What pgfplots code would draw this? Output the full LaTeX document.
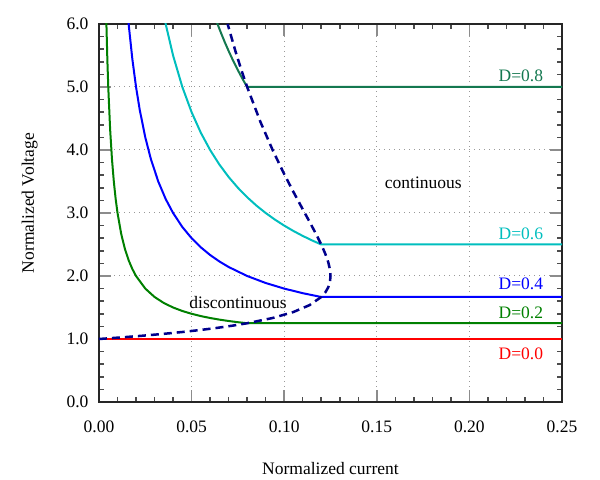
\documentclass[border=0pt]{standalone}
\usepackage{fontspec}
\setmainfont{Liberation Serif}
\usepackage{pgfplots}
\pgfplotsset{compat=1.18}
\definecolor{cred}{RGB}{255,0,0}
\definecolor{cgreen}{RGB}{0,128,0}
\definecolor{cblue}{RGB}{0,0,255}
\definecolor{ccyan}{RGB}{0,190,190}
\definecolor{cteal}{RGB}{20,120,80}
\definecolor{cnavy}{RGB}{0,0,140}
\begin{document}
\begin{tikzpicture}[x=1bp,y=1bp,font=\fontsize{17.5bp}{21bp}\selectfont]
\path[use as bounding box] (-99,-78) rectangle (501,402);
\begin{axis}[
  at={(0,0)}, anchor=south west,
  width=463bp, height=378bp, scale only axis,
  xmin=0, xmax=0.25, ymin=0, ymax=6,
  xtick={0,0.05,0.1,0.15,0.2,0.25},
  xticklabels={0.00,0.05,0.10,0.15,0.20,0.25},
  ytick={0,1,2,3,4,5,6},
  yticklabels={0.0,1.0,2.0,3.0,4.0,5.0,6.0},
  minor x tick num=4, minor y tick num=4,
  tick align=inside,
  major tick length=12bp, minor tick length=5bp,
  every major tick/.style={black!45, line width=1.5bp},
  every minor tick/.style={black!70, line width=1.5bp},
  grid=major,
  major grid style={black!40, line width=1bp, dash pattern=on 1bp off 4bp},
  axis line style={line width=2bp, black!85},
  clip=true,
  tick label style={font=\fontsize{17.5bp}{21bp}\selectfont},
  label style={font=\fontsize{17.5bp}{21bp}\selectfont},
  xticklabel style={yshift=-15bp},
  yticklabel style={xshift=-7bp},
  /pgf/number format/assume math mode=true,
  xlabel={Normalized current},
  ylabel={Normalized Voltage},
  xlabel style={at={(axis description cs:0.5,-0.1931)}, anchor=base},
  ylabel style={at={(axis description cs:-0.1404,0.5265)}, anchor=base},
]
% D=0.0
\addplot[cred, line width=2bp] coordinates {(0.004,1) (0.25,1)};
% D=0.2
\addplot[cgreen, line width=2bp] coordinates {
(0.0033,7.0606) (0.004,6.0) (0.0045,5.4444) (0.005,5.0) (0.006,4.3333) (0.007,3.8571)
(0.008,3.5) (0.009,3.2222) (0.010,3.0) (0.012,2.6667) (0.014,2.4286) (0.016,2.25)
(0.018,2.1111) (0.020,2.0) (0.025,1.8) (0.030,1.6667) (0.035,1.5714) (0.040,1.5)
(0.045,1.4444) (0.050,1.4) (0.055,1.3636) (0.060,1.3333) (0.065,1.3077) (0.070,1.2857)
(0.075,1.2667) (0.080,1.25) (0.25,1.25)};
% D=0.4
\addplot[cblue, line width=2bp] coordinates {
(0.0145,6.5172) (0.016,6.0) (0.018,5.4444) (0.020,5.0) (0.022,4.6364) (0.025,4.2)
(0.028,3.8571) (0.032,3.5) (0.036,3.2222) (0.040,3.0) (0.045,2.7778) (0.050,2.6)
(0.055,2.4545) (0.060,2.3333) (0.065,2.2308) (0.070,2.1429) (0.080,2.0) (0.090,1.8889)
(0.100,1.8) (0.110,1.7273) (0.120,1.6667) (0.25,1.6667)};
% D=0.6
\addplot[ccyan, line width=2bp] coordinates {
(0.034,6.2941) (0.036,6.0) (0.040,5.5) (0.045,5.0) (0.050,4.6) (0.055,4.2727)
(0.060,4.0) (0.065,3.7692) (0.070,3.5714) (0.075,3.4) (0.080,3.25) (0.085,3.1176)
(0.090,3.0) (0.095,2.8947) (0.100,2.8) (0.105,2.7143) (0.110,2.6364) (0.115,2.5652)
(0.120,2.5) (0.25,2.5)};
% D=0.8
\addplot[cteal, line width=2bp] coordinates {
(0.062,6.1613) (0.064,6.0) (0.066,5.8485) (0.068,5.7059) (0.070,5.5714) (0.072,5.4444)
(0.074,5.3243) (0.076,5.2105) (0.078,5.1026) (0.080,5.0) (0.25,5.0)};
% boundary
\addplot[cnavy, line width=2.5bp, dash pattern=on 8bp off 5bp] coordinates {
(0,1) (0.0121875,1.02564) (0.02375,1.05263) (0.0346875,1.08108) (0.045,1.11111)
(0.0546875,1.142857) (0.06375,1.17647) (0.0721875,1.21212) (0.08,1.25)
(0.09375,1.33333) (0.105,1.42857) (0.11375,1.53846) (0.12,1.66667)
(0.1221875,1.73913) (0.12375,1.81818) (0.1247,1.90476) (0.125,2.0)
(0.1247,2.10526) (0.12375,2.22222) (0.1221875,2.35294) (0.12,2.5)
(0.1171875,2.66667) (0.11375,2.85714) (0.1096875,3.07692) (0.105,3.33333)
(0.0996875,3.63636) (0.09375,4.0) (0.0871875,4.44444) (0.08,5.0)
(0.07695,5.26316) (0.0738,5.5556) (0.069444,6.0)};
\node[anchor=base east, inner sep=0pt, text=cteal] at (axis cs:0.2399,5.087) {D=0.8};
\node[anchor=base east, inner sep=0pt, text=ccyan] at (axis cs:0.2399,2.583) {D=0.6};
\node[anchor=base east, inner sep=0pt, text=cblue] at (axis cs:0.2399,1.789) {D=0.4};
\node[anchor=base east, inner sep=0pt, text=cgreen] at (axis cs:0.2399,1.328) {D=0.2};
\node[anchor=base east, inner sep=0pt, text=cred] at (axis cs:0.2399,0.678) {D=0.0};
\node[anchor=base, inner sep=0pt] at (axis cs:0.1751,3.392) {continuous};
\node[anchor=base, inner sep=0pt] at (axis cs:0.0751,1.492) {discontinuous};
\end{axis}
\end{tikzpicture}
\end{document}
